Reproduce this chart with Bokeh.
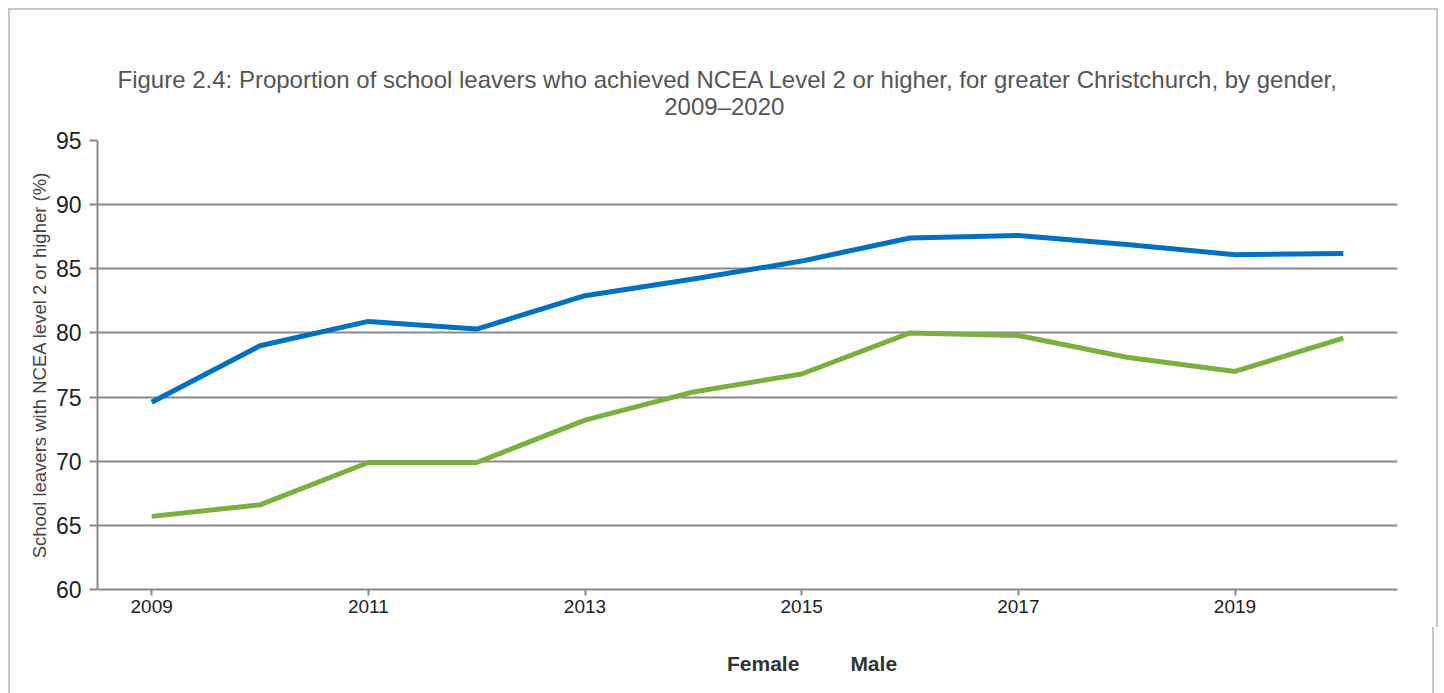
from bokeh.plotting import figure
from bokeh.layouts import column
from bokeh.models import Range1d, FixedTicker, Title, Legend, LegendItem
from bokeh.embed import file_html
from bokeh.resources import INLINE

years = [2009, 2010, 2011, 2012, 2013, 2014, 2015, 2016, 2017, 2018, 2019, 2020]
female = [74.6, 79.0, 80.9, 80.3, 82.9, 84.2, 85.6, 87.4, 87.6, 86.9, 86.1, 86.2]
male = [65.7, 66.6, 69.9, 69.9, 73.2, 75.4, 76.8, 80.0, 79.8, 78.1, 77.0, 79.6]
series_names = ["Female", "Male"]
series_colors = ["#0070C0", "#78B13F"]
x_ticks = [2009, 2011, 2013, 2015, 2017, 2019]
y_ticks = [60, 65, 70, 75, 80, 85, 90, 95]
title_line1 = ("Figure 2.4: Proportion of school leavers who achieved NCEA Level 2 or higher, "
               "for greater Christchurch, by gender,")
title_line2 = "2009\u20132020"
y_label = "School leavers with NCEA level 2 or higher (%)"

FONT = "Liberation Sans"
BORDER = "2px solid #c8c8c8"

p = figure(frame_width=1296, frame_height=447, output_backend="svg", toolbar_location=None,
           title=None, x_range=Range1d(2008.5, 2020.5), y_range=Range1d(60, 95),
           min_border_left=87, min_border_right=43, min_border_top=130, min_border_bottom=40)
p.styles = {"border-left": BORDER, "border-top": BORDER, "border-right": BORDER,
            "position": "relative", "left": "8px", "top": "8px"}
p.outline_line_color = None
p.background_fill_color = "white"
p.border_fill_color = "white"

# two-line title; second line centred under the first by leading no-break spaces
title_text = title_line1 + "\n" + "\u00a0" * 82 + title_line2
t = Title(text=title_text, align="left", text_font=FONT, text_font_size="24px",
          text_font_style="normal", text_color="#555555", standoff=42, offset=20)
p.add_layout(t, "above")

# axes
p.xaxis.ticker = FixedTicker(ticks=x_ticks)
p.yaxis.ticker = FixedTicker(ticks=y_ticks)
for ax in (p.xaxis[0], p.yaxis[0]):
    ax.axis_line_color = "#8a8a8a"
    ax.axis_line_width = 2
    ax.major_tick_line_color = "#8a8a8a"
    ax.major_tick_line_width = 2
    ax.major_tick_in = 0
    ax.minor_tick_line_color = None
    ax.major_label_text_font = FONT
    ax.major_label_text_color = "#222222"
p.xaxis.major_tick_out = 6
p.yaxis.major_tick_out = 8
p.xaxis.major_label_text_font_size = "19px"
p.yaxis.major_label_text_font_size = "23px"
p.xaxis.major_label_standoff = 4
p.yaxis.major_label_standoff = 8
p.yaxis.axis_label = y_label
p.yaxis.axis_label_text_font = FONT
p.yaxis.axis_label_text_font_size = "18.5px"
p.yaxis.axis_label_text_font_style = "normal"
p.yaxis.axis_label_text_color = "#444444"
p.yaxis.axis_label_standoff = 3

p.xgrid.grid_line_color = None
p.ygrid.grid_line_color = "#8a8a8a"
p.ygrid.grid_line_width = 2

p.line(years, female, line_color=series_colors[0], line_width=5)
p.line(years, male, line_color=series_colors[1], line_width=5)

# legend strip below the chart (a small figure holding only the legend)
lg = figure(width=1426, height=66, output_backend="svg", toolbar_location=None,
            title=None, x_range=Range1d(0, 1), y_range=Range1d(0, 1),
            x_axis_location=None, y_axis_location=None, min_border=0)
lg.styles = {"border-left": BORDER, "border-right": BORDER,
             "position": "relative", "left": "8px", "top": "8px"}
lg.outline_line_color = None
lg.xgrid.grid_line_color = None
lg.ygrid.grid_line_color = None
lg.background_fill_color = "white"
lg.border_fill_color = "white"
items = []
for name, color in zip(series_names, series_colors):
    r = lg.line([], [], line_color=color, line_width=5)
    items.append(LegendItem(label=name, renderers=[r]))
legend = Legend(items=items, orientation="horizontal", location=(603, 17),
                label_text_font=FONT, label_text_font_size="21px",
                label_text_font_style="bold", label_text_color="#333333",
                glyph_width=22, glyph_height=20, label_standoff=5, spacing=24,
                padding=0, margin=0, border_line_color=None, background_fill_alpha=0)
lg.add_layout(legend)

layout = column(p, lg, spacing=0)

open("out.html", "w").write(file_html(layout, INLINE))
